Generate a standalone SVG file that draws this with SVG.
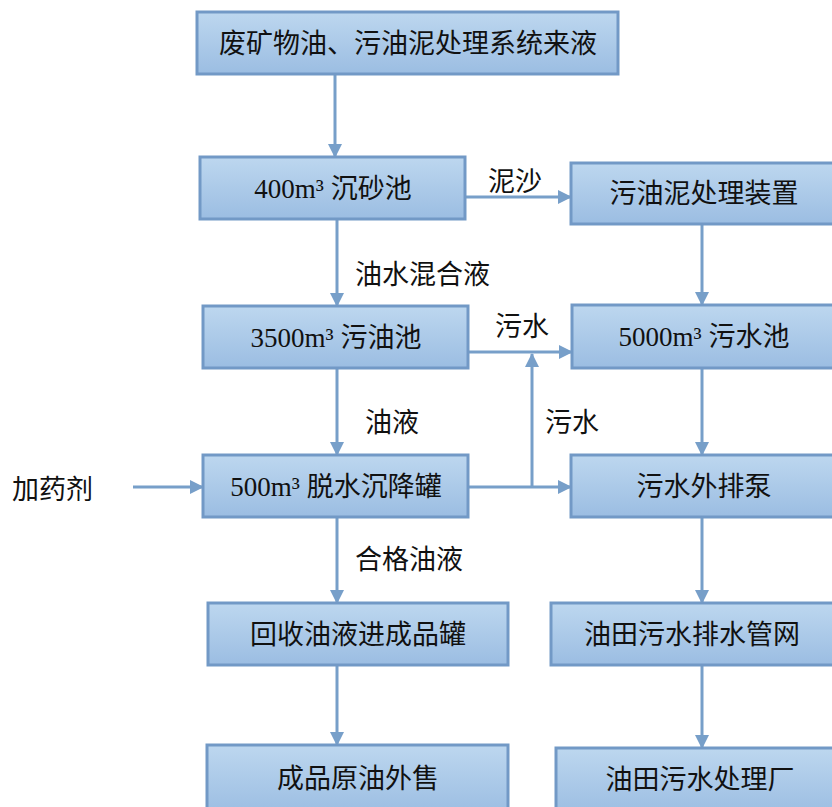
<svg xmlns="http://www.w3.org/2000/svg" width="832" height="807" viewBox="0 0 832 807">
<defs>
<linearGradient id="g" x1="0" y1="0" x2="0" y2="1">
<stop offset="0" stop-color="#bdd7ef"/>
<stop offset="1" stop-color="#9bbde2"/>
</linearGradient>
<marker id="ah" viewBox="0 0 14 14" refX="13" refY="7" markerWidth="14" markerHeight="14" markerUnits="userSpaceOnUse" orient="auto">
<path d="M0,0 L14,7 L0,14 Z" fill="#779fc9"/>
</marker>
<style>
.box{fill:url(#g);stroke:#7299c6;stroke-width:3}
.t{font-family:"Liberation Serif","Noto Sans CJK SC",serif;font-size:27px;fill:#111;text-anchor:middle;dominant-baseline:central}
.l{font-family:"Liberation Serif","Noto Sans CJK SC",serif;font-size:27px;fill:#111;dominant-baseline:central}
.c{fill:none;stroke:#779fc9;stroke-width:3;marker-end:url(#ah)}
</style>
</defs>
<g id="connectors">
<line class="c" x1="335" y1="75" x2="335" y2="157"/>
<line class="c" x1="337" y1="220" x2="337" y2="306"/>
<line class="c" x1="337" y1="369" x2="337" y2="455"/>
<line class="c" x1="337" y1="518" x2="337" y2="603"/>
<line class="c" x1="337" y1="666" x2="337" y2="745"/>
<line class="c" x1="466" y1="197" x2="571" y2="197"/>
<line class="c" x1="702" y1="225" x2="702" y2="305"/>
<line class="c" x1="469" y1="352" x2="572" y2="352"/>
<line class="c" x1="469" y1="487" x2="571" y2="487"/>
<line class="c" x1="532" y1="487" x2="532" y2="354"/>
<line class="c" x1="702" y1="369" x2="702" y2="455"/>
<line class="c" x1="702" y1="518" x2="702" y2="603"/>
<line class="c" x1="702" y1="666" x2="702" y2="748"/>
<line class="c" x1="133" y1="487" x2="203" y2="487"/>
</g>
<g id="n1"><rect class="box" x="197" y="12" width="421" height="62"/><text class="t" x="408" y="44">废矿物油、污油泥处理系统来液</text></g>
<g id="n2"><rect class="box" x="200" y="157" width="265" height="62"/><text class="t" x="333" y="189">400m³ 沉砂池</text></g>
<g id="n3"><rect class="box" x="571" y="163" width="270" height="61"/><text class="t" x="704" y="194">污油泥处理装置</text></g>
<g id="n4"><rect class="box" x="203" y="306" width="265" height="62"/><text class="t" x="336" y="338">3500m³ 污油池</text></g>
<g id="n5"><rect class="box" x="572" y="305" width="270" height="63"/><text class="t" x="704" y="337">5000m³ 污水池</text></g>
<g id="n6"><rect class="box" x="203" y="455" width="265" height="62"/><text class="t" x="336" y="487">500m³ 脱水沉降罐</text></g>
<g id="n7"><rect class="box" x="571" y="455" width="270" height="62"/><text class="t" x="704" y="487">污水外排泵</text></g>
<g id="n8"><rect class="box" x="208" y="603" width="300" height="62"/><text class="t" x="358" y="635">回收油液进成品罐</text></g>
<g id="n9"><rect class="box" x="551" y="603" width="290" height="62"/><text class="t" x="692" y="635">油田污水排水管网</text></g>
<g id="n10"><rect class="box" x="207" y="745" width="301" height="70"/><text class="t" x="358" y="779">成品原油外售</text></g>
<g id="n11"><rect class="box" x="556" y="748" width="285" height="67"/><text class="t" x="700" y="780">油田污水处理厂</text></g>
<g id="labels">
<text class="l" x="355" y="275">油水混合液</text>
<text class="l" x="365" y="423">油液</text>
<text class="l" x="355" y="560">合格油液</text>
<text class="l" x="488" y="182">泥沙</text>
<text class="l" x="495" y="327">污水</text>
<text class="l" x="545" y="423">污水</text>
<text class="l" x="12" y="490">加药剂</text>
</g>
</svg>
